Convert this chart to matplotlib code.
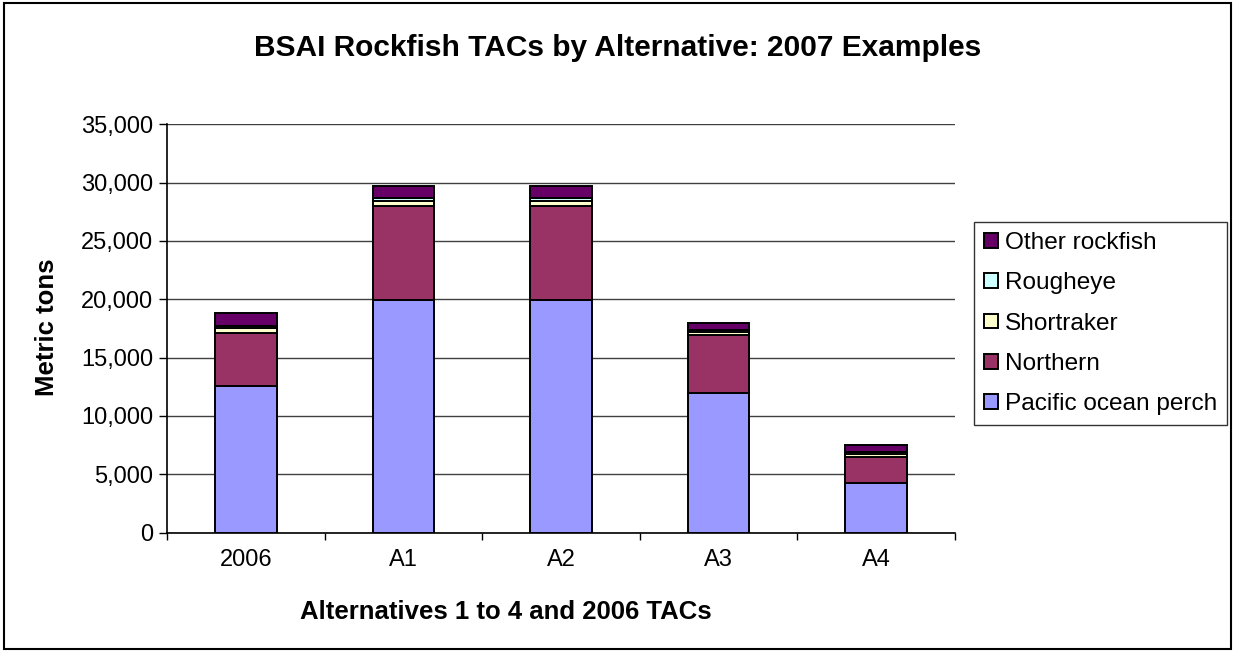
import matplotlib
matplotlib.use("Agg")
import matplotlib.pyplot as plt
from matplotlib.patches import Rectangle
from matplotlib.ticker import FuncFormatter, FixedLocator
import numpy as np

plt.rcParams['font.family'] = ['Liberation Sans', 'DejaVu Sans']

categories = ["2006", "A1", "A2", "A3", "A4"]
pacific_ocean_perch = [12600, 19900, 19900, 12000, 4260]
northern = [4500, 8100, 8100, 4930, 2230]
shortraker = [424, 400, 400, 250, 250]
rougheye = [223, 280, 280, 200, 200]
other_rockfish = [1050, 1000, 1000, 620, 580]

series = [
    ("Pacific ocean perch", pacific_ocean_perch, "#9999FF"),
    ("Northern", northern, "#993366"),
    ("Shortraker", shortraker, "#FFFFCC"),
    ("Rougheye", rougheye, "#CCFFFF"),
    ("Other rockfish", other_rockfish, "#660066"),
]

fig = plt.figure(figsize=(12.35, 6.52), dpi=100)
ax = fig.add_axes([0.1352, 0.183, 0.7733 - 0.1352, 0.8094 - 0.183])

x = np.arange(len(categories))
bottom = np.zeros(len(categories))
handles = []
for name, vals, color in series:
    bars = ax.bar(x, vals, bottom=bottom, width=0.39, color=color,
                  edgecolor="black", linewidth=1.4, label=name, zorder=3)
    handles.append(bars)
    bottom += np.array(vals)

ax.set_xlim(-0.5, len(categories) - 0.5)
ax.set_ylim(0, 35000)
ax.set_yticks(np.arange(0, 35001, 5000))
ax.yaxis.set_major_formatter(FuncFormatter(lambda v, p: f"{int(v):,}"))
ax.yaxis.grid(True, color="#404040", linewidth=1.0, zorder=0)
ax.set_xticks(x)
ax.set_xticklabels(categories)
ax.xaxis.set_minor_locator(FixedLocator(np.arange(-0.5, len(categories), 1.0)))
ax.tick_params(axis="x", which="major", length=0, pad=12, labelsize=17)
ax.tick_params(axis="x", which="minor", length=5, width=1.0, direction="out")
ax.tick_params(axis="y", length=6, width=1.0, direction="out", labelsize=17, pad=4)

for side in ["top", "right"]:
    ax.spines[side].set_visible(False)
ax.spines["left"].set_linewidth(1.2)
ax.spines["bottom"].set_linewidth(1.2)

fig.text(47 / 1235, 1 - 327 / 652, "Metric tons", rotation=90,
         ha="center", va="center", fontsize=18.5, fontweight="bold")

fig.text(506 / 1235, 1 - 612 / 652, "Alternatives 1 to 4 and 2006 TACs",
         ha="center", va="center", fontsize=18.5, fontweight="bold")

fig.text(0.5, 0.927, "BSAI Rockfish TACs by Alternative: 2007 Examples",
         ha="center", va="center", fontsize=21.5, fontweight="bold")

leg = fig.legend(handles=handles[::-1], labels=[s[0] for s in series][::-1],
                 loc="lower right", bbox_to_anchor=(1227 / 1235, 1 - 425 / 652),
                 fontsize=17.6, frameon=True, fancybox=False, edgecolor="black",
                 handlelength=0.55, handleheight=0.55, handletextpad=0.3,
                 labelspacing=0.75, borderpad=0.4, borderaxespad=0)
leg.get_frame().set_linewidth(1.0)

fig.patches.append(Rectangle((0.003, 0.004), 0.994, 0.992, transform=fig.transFigure,
                             fill=False, edgecolor="black", linewidth=1.5))

fig.savefig("out.png", dpi=100)
